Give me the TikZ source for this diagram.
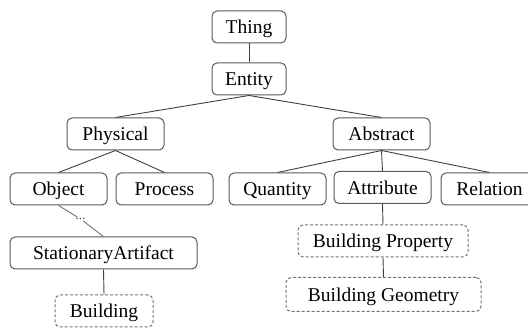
\documentclass[tikz,border=0pt]{standalone}
\usepackage{fontspec}
\setmainfont{Liberation Serif}
\begin{document}
\begin{tikzpicture}[x=1pt,y=-1pt,
  box/.style={draw=black!65, line width=1pt, rounded corners=5pt, inner sep=0pt,
    minimum height=32pt, text height=14pt, text depth=0pt, font=\fontsize{19.5}{22}\selectfont},
  dbox/.style={box, draw=black!55, dash pattern=on 3pt off 2pt},
  link/.style={draw=black!75, line width=0.9pt}]
\useasboundingbox (0,0) rectangle (528,328);
\node[box, minimum width=74pt] (thing) at (249,27) {Thing};
\node[box, minimum width=74pt] (entity) at (249,79) {Entity};
\node[box, minimum width=97pt] (physical) at (115.5,134) {Physical};
\node[box, minimum width=97pt] (abstract) at (381.5,134) {Abstract};
\node[box, minimum width=97pt] (object) at (58.5,189) {Object};
\node[box, minimum width=97pt] (process) at (164.5,189) {Process};
\node[box, minimum width=97pt] (quantity) at (277.5,189) {Quantity};
\node[box, minimum width=97pt] (attribute) at (382.5,187.5) {Attribute};
\node[box, minimum width=97pt] (relation) at (489.5,189) {Relation};
\node[dbox, minimum width=170pt] (bprop) at (383,241) {Building Property};
\node[dbox, minimum width=195pt, minimum height=34pt] (bgeom) at (383.5,294.5) {Building Geometry};
\node[box, minimum width=187pt] (stat) at (103.5,253) {StationaryArtifact};
\node[dbox, minimum width=98pt] (building) at (104,311) {Building};
\node[inner sep=1pt, font=\fontsize{13}{14}\selectfont, text=black!75] (dots) at (80.5,219) {...};
\draw[link] (thing.south) -- (entity.north);
\draw[link] (entity.south) -- (physical.north);
\draw[link] (entity.south) -- (abstract.north);
\draw[link] (physical.south) -- (object.north);
\draw[link] (physical.south) -- (process.north);
\draw[link] (abstract.south) -- (quantity.north);
\draw[link] (abstract.south) -- (attribute.north);
\draw[link] (abstract.south) -- (relation.north);
\draw[link] (attribute.south) -- (bprop.north);
\draw[link] (bprop.south) -- (bgeom.north);
\draw[link, draw=black!55] (object.south) -- (dots);
\draw[link, draw=black!55] (dots) -- (stat.north);
\draw[link] (stat.south) -- (building.north);
\end{tikzpicture}
\end{document}
